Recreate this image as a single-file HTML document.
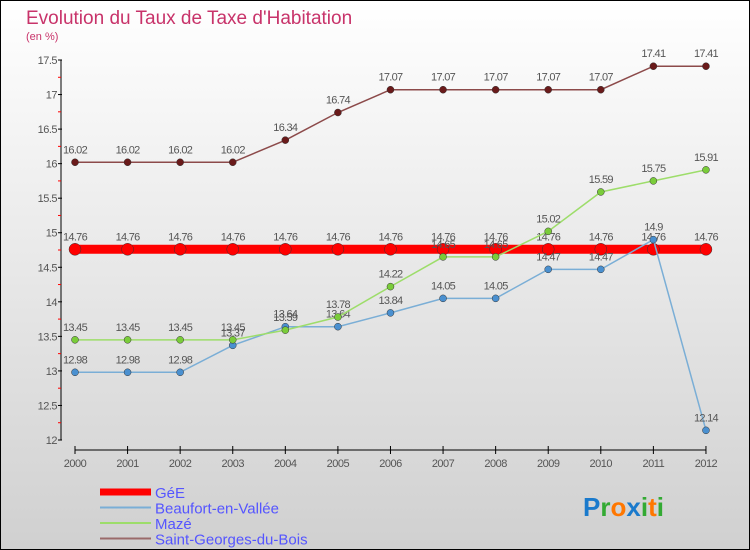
<!DOCTYPE html>
<html><head><meta charset="utf-8"><style>
body{margin:0}
#c{width:750px;height:550px;position:relative;overflow:hidden;box-sizing:border-box;border:1px solid #000;background:linear-gradient(#fff,#d0d0d0);font-family:"Liberation Sans",sans-serif}
</style></head><body>
<div id="c">
<svg id="s" width="750" height="550" style="position:absolute;left:-1px;top:-1px">
<text x="26" y="24" font-size="19" fill="#c8336a">Evolution du Taux de Taxe d'Habitation</text>
<text x="26" y="40" font-size="11" fill="#c8336a">(en %)</text>
</svg>
</div>
<script>
const years=[2000,2001,2002,2003,2004,2005,2006,2007,2008,2009,2010,2011,2012];
const yTicks=[12,12.5,13,13.5,14,14.5,15,15.5,16,16.5,17,17.5];
const gee=[14.76,14.76,14.76,14.76,14.76,14.76,14.76,14.76,14.76,14.76,14.76,14.76,14.76];
const beaufort=[12.98,12.98,12.98,13.37,13.64,13.64,13.84,14.05,14.05,14.47,14.47,14.9,12.14];
const maze=[13.45,13.45,13.45,13.45,13.59,13.78,14.22,14.65,14.65,15.02,15.59,15.75,15.91];
const stg=[16.02,16.02,16.02,16.02,16.34,16.74,17.07,17.07,17.07,17.07,17.07,17.41,17.41];
const NS='http://www.w3.org/2000/svg',s=document.getElementById('s');
const X=i=>75+i*52.58, Y=v=>440-(v-12)*69.09;
function el(t,a,p){const e=document.createElementNS(NS,t);for(const k in a)e.setAttribute(k,a[k]);(p||s).appendChild(e);return e;}
let ya=el('line',{x1:61,y1:60,x2:61,y2:440,stroke:'#000'});

yTicks.forEach((v,k)=>{el('line',{x1:58,y1:Y(v),x2:62,y2:Y(v),stroke:'#000'});
 if(k<yTicks.length-1)el('line',{x1:58,y1:Y(v+0.25),x2:61,y2:Y(v+0.25),stroke:'#f00'});
 let t=el('text',{x:57,y:Y(v)+4,'font-size':11,fill:'#555','text-anchor':'end','letter-spacing':'-0.5'});t.textContent=String(v);
 });
let xa=el('line',{x1:75,y1:450,x2:706,y2:450,stroke:'#000'});

years.forEach((y,i)=>{el('line',{x1:X(i),y1:446,x2:X(i),y2:454,stroke:'#000'});
 let t=el('text',{x:X(i),y:467,'font-size':11,fill:'#555','text-anchor':'middle','letter-spacing':'-0.5'});t.textContent=y;
 });
function series(d,col,w,r,name,fill){
 let p=el('polyline',{points:d.map((v,i)=>X(i)+','+Y(v)).join(' '),fill:'none',stroke:col,'stroke-width':w});
 
 d.forEach((v,i)=>{let c=el('circle',{cx:X(i),cy:Y(v),r:r,fill:fill,stroke:'#333','stroke-width':0.5});
  
  let t=el('text',{x:X(i),y:Y(v)-9,'font-size':11,fill:'#555','text-anchor':'middle','letter-spacing':'-0.7'});t.textContent=String(v);
  });
}
series(gee,'#f00',9,6,'gee','#f00');
series(beaufort,'#7aaed6',1.5,3.5,'beaufort','#4a90d0');
series(maze,'#9ddd6a',1.5,3.5,'maze','#7acc3a');
series(stg,'#8c4a4a',1.5,3.5,'saint-georges','#6a1a1a');
const leg=[['GéE','#f00',7],['Beaufort-en-Vallée','#7aaed6',2],['Mazé','#9ddd6a',2],['Saint-Georges-du-Bois','#9a6a6a',2]];
leg.forEach((l,i)=>{let y=492+i*15.5;
 let ln=el('line',{x1:100,y1:y,x2:151,y2:y,stroke:l[1],'stroke-width':l[2]});
 
 let t=el('text',{x:155,y:y+6,'font-size':15,fill:'#5555ff'});t.textContent=l[0];
 });
let g=el('text',{x:583,y:516,'font-size':26,'font-weight':'bold'});

[['P','#1a7acc'],['r','#33aa33'],['o','#ff7700'],['x','#1a7acc'],['i','#33aa33'],['t','#ff7700'],['i','#33aa33']].forEach(c=>{let ts=el('tspan',{fill:c[1]},g);ts.textContent=c[0];});
</script>
</body></html>
